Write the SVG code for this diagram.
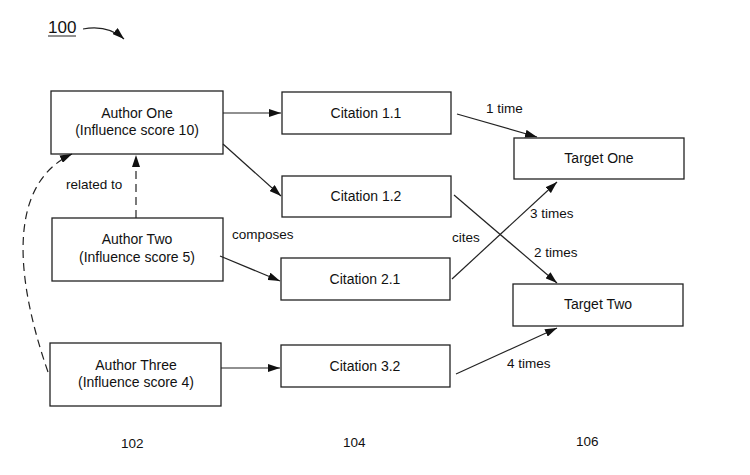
<svg xmlns="http://www.w3.org/2000/svg" width="750" height="475" viewBox="0 0 750 475">
<defs>
<style>
.box{fill:#fff;stroke:#222;stroke-width:1.3}
.t{font-family:"Liberation Sans",Arial,sans-serif;font-size:14px;fill:#111;text-anchor:middle}
.l{font-family:"Liberation Sans",Arial,sans-serif;font-size:13.5px;fill:#111}
.c{fill:none;stroke:#222;stroke-width:1.2}
.d{fill:none;stroke:#222;stroke-width:1.2;stroke-dasharray:8 5}
</style>
<marker id="ah" viewBox="0 0 12 8" refX="12" refY="4" markerWidth="12" markerHeight="8" markerUnits="userSpaceOnUse" orient="auto">
<path d="M0,0 L12,4 L0,8 Z" fill="#111"/>
</marker>
</defs>
<rect width="750" height="475" fill="#fff"/>

<g id="label-100">
<text x="48" y="33" class="l" style="font-size:17px">100</text>
<line x1="48" y1="36" x2="76" y2="36" stroke="#222" stroke-width="1"/>
<path d="M83,29 C100,26 114,30 124,39" class="c" marker-end="url(#ah)"/>
</g>

<g id="author-one"><rect x="51" y="91" width="172" height="63" class="box"/>
<text x="137" y="118" class="t">Author One</text><text x="137" y="135" class="t">(Influence score 10)</text></g>
<g id="author-two"><rect x="52" y="218" width="171" height="63" class="box"/>
<text x="137" y="244" class="t">Author Two</text><text x="137" y="262" class="t">(Influence score 5)</text></g>
<g id="author-three"><rect x="50" y="343" width="171" height="63" class="box"/>
<text x="136" y="370" class="t">Author Three</text><text x="136" y="387" class="t">(Influence score 4)</text></g>

<g id="citation-1-1"><rect x="282" y="92" width="169" height="42" class="box"/><text x="366" y="118" class="t">Citation 1.1</text></g>
<g id="citation-1-2"><rect x="282" y="176" width="169" height="41" class="box"/><text x="366" y="201" class="t">Citation 1.2</text></g>
<g id="citation-2-1"><rect x="281" y="258" width="169" height="42" class="box"/><text x="365" y="284" class="t">Citation 2.1</text></g>
<g id="citation-3-2"><rect x="281" y="345" width="169" height="42" class="box"/><text x="365" y="371" class="t">Citation 3.2</text></g>

<g id="target-one"><rect x="514" y="138" width="170" height="41" class="box"/><text x="599" y="163" class="t">Target One</text></g>
<g id="target-two"><rect x="513" y="284" width="170" height="42" class="box"/><text x="598" y="309" class="t">Target Two</text></g>

<g id="connectors">
<line x1="223" y1="113" x2="281" y2="113" class="c" marker-end="url(#ah)"/>
<line x1="223" y1="144" x2="281" y2="196" class="c" marker-end="url(#ah)"/>
<line x1="220" y1="256" x2="280" y2="281" class="c" marker-end="url(#ah)"/>
<line x1="221" y1="368" x2="280" y2="368" class="c" marker-end="url(#ah)"/>
<line x1="457" y1="114" x2="537" y2="137" class="c" marker-end="url(#ah)"/>
<line x1="454" y1="195" x2="557" y2="283" class="c" marker-end="url(#ah)"/>
<line x1="452" y1="279" x2="557" y2="182" class="c" marker-end="url(#ah)"/>
<line x1="456" y1="374" x2="557" y2="328" class="c" marker-end="url(#ah)"/>
<line x1="136" y1="218" x2="136" y2="155" class="d" marker-end="url(#ah)"/>
<path d="M48,372 C16,280 6,185 72,154" class="d" marker-end="url(#ah)"/>
</g>

<g id="labels">
<text x="66" y="189" class="l">related to</text>
<text x="232" y="239" class="l">composes</text>
<text x="452" y="242" class="l">cites</text>
<text x="486" y="113" class="l">1 time</text>
<text x="530" y="218" class="l">3 times</text>
<text x="534" y="257" class="l">2 times</text>
<text x="507" y="368" class="l">4 times</text>
<text x="121" y="448" class="l">102</text>
<text x="343" y="447" class="l">104</text>
<text x="576" y="446" class="l">106</text>
</g>
</svg>
